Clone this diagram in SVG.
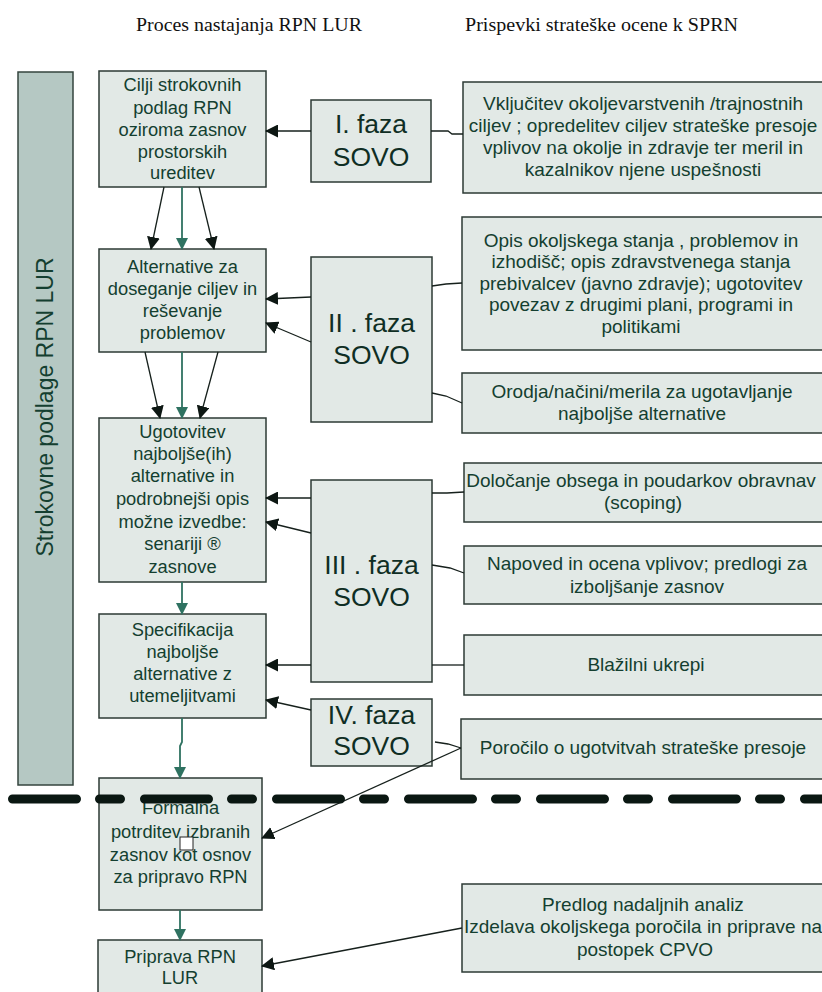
<svg xmlns="http://www.w3.org/2000/svg" width="822" height="992" viewBox="0 0 822 992">
<style>
.bx{fill:#e2e9e6;stroke:#2c3a35;stroke-width:1.5}
.bar{fill:#b5c8c3;stroke:#34443e;stroke-width:1.5}
.t{font-family:"Liberation Sans",Arial,sans-serif;font-size:18.3px;fill:#143f30;text-anchor:middle}
.r{font-family:"Liberation Sans",Arial,sans-serif;font-size:19px;fill:#143f30;text-anchor:middle}
.ph{font-family:"Liberation Sans",Arial,sans-serif;font-size:26.5px;fill:#0f2e24;text-anchor:middle}
.hd{font-family:"Liberation Serif","Times New Roman",serif;font-size:18px;fill:#111}
.k{fill:none;stroke:#16201c;stroke-width:1.3}
.g{fill:none;stroke:#2f7261;stroke-width:1.8}
</style>
<defs>
<marker id="ab" markerUnits="userSpaceOnUse" markerWidth="13" markerHeight="13" refX="12" refY="6.5" orient="auto"><path d="M0,0 L13,6.5 L0,13 z" fill="#0d1713"/></marker>
<marker id="ag" markerUnits="userSpaceOnUse" markerWidth="12" markerHeight="12" refX="11" refY="6" orient="auto"><path d="M0,0 L12,6 L0,12 z" fill="#2f7261"/></marker>
</defs>
<rect width="822" height="992" fill="#fff"/>
<g id="headers">
<text class="hd" x="136" y="31" textLength="226" lengthAdjust="spacingAndGlyphs">Proces nastajanja RPN LUR</text>
<text class="hd" x="465" y="31" textLength="273" lengthAdjust="spacingAndGlyphs">Prispevki strateške ocene k SPRN</text>
</g>
<g id="side-bar">
<rect class="bar" x="18" y="72" width="55" height="713"/>
<text class="t" style="font-size:23px" transform="translate(53,407) rotate(-90)">Strokovne podlage RPN LUR</text>
</g>
<g id="n1"><rect class="bx" x="99" y="71" width="167" height="116"/>
<text class="t" x="182.5" y="91">Cilji strokovnih</text><text class="t" x="182.5" y="114">podlag RPN</text><text class="t" x="182.5" y="136">oziroma zasnov</text><text class="t" x="182.5" y="158">prostorskih</text><text class="t" x="182.5" y="179">ureditev</text></g>
<g id="n2"><rect class="bx" x="99" y="249" width="167" height="103"/>
<text class="t" x="182.5" y="273">Alternative za</text><text class="t" x="182.5" y="295">doseganje ciljev in</text><text class="t" x="182.5" y="317">reševanje</text><text class="t" x="182.5" y="339">problemov</text></g>
<g id="n3"><rect class="bx" x="99" y="418" width="167" height="164"/>
<text class="t" x="182.5" y="438">Ugotovitev</text><text class="t" x="182.5" y="460">najboljše(ih)</text><text class="t" x="182.5" y="482">alternative in</text><text class="t" x="182.5" y="505">podrobnejši opis</text><text class="t" x="182.5" y="528">možne izvedbe:</text><text class="t" x="182.5" y="550">senariji ®</text><text class="t" x="182.5" y="573">zasnove</text></g>
<g id="n4"><rect class="bx" x="99" y="614" width="167" height="104"/>
<text class="t" x="182.5" y="636">Specifikacija</text><text class="t" x="182.5" y="658">najboljše</text><text class="t" x="182.5" y="680">alternative z</text><text class="t" x="182.5" y="702">utemeljitvami</text></g>
<g id="n5"><rect class="bx" x="99" y="778" width="163" height="132"/>
<text class="t" x="180.5" y="814">Formalna</text><text class="t" x="180.5" y="838">potrditev izbranih</text><text class="t" x="180.5" y="861">zasnov kot osnov</text><text class="t" x="180.5" y="883">za pripravo  RPN</text>
<rect x="180" y="837" width="13" height="13" fill="#fff" stroke="#222" stroke-width="1"/></g>
<g id="n6"><rect class="bx" x="98" y="940" width="164" height="70"/>
<text class="t" x="180" y="963">Priprava RPN</text><text class="t" x="180" y="984">LUR</text></g>
<g id="p1"><rect class="bx" x="311" y="100" width="120" height="82"/>
<text class="ph" x="371" y="133">I. faza</text><text class="ph" x="371" y="166">SOVO</text></g>
<g id="p2"><rect class="bx" x="311" y="257" width="121" height="165"/>
<text class="ph" x="371.5" y="332">II . faza</text><text class="ph" x="371.5" y="364">SOVO</text></g>
<g id="p3"><rect class="bx" x="311" y="480" width="121" height="202"/>
<text class="ph" x="371.5" y="574">III . faza</text><text class="ph" x="371.5" y="606">SOVO</text></g>
<g id="p4"><rect class="bx" x="311" y="699" width="121" height="67"/>
<text class="ph" x="371.5" y="724">IV. faza</text><text class="ph" x="371.5" y="755">SOVO</text></g>
<g id="b1"><rect class="bx" x="463" y="82" width="370" height="111"/>
<text class="r" x="643" y="110">Vključitev okoljevarstvenih /trajnostnih</text><text class="r" x="643" y="132">ciljev ; opredelitev ciljev strateške presoje</text><text class="r" x="643" y="154">vplivov na okolje in zdravje ter meril in</text><text class="r" x="643" y="176">kazalnikov njene uspešnosti</text></g>
<g id="b2"><rect class="bx" x="462" y="217" width="370" height="133"/>
<text class="r" x="641" y="247">Opis okoljskega stanja , problemov in</text><text class="r" x="641" y="268">izhodišč; opis zdravstvenega stanja</text><text class="r" x="641" y="290">prebivalcev (javno zdravje); ugotovitev</text><text class="r" x="641" y="311">povezav z drugimi plani, programi in</text><text class="r" x="641" y="333">politikami</text></g>
<g id="b3"><rect class="bx" x="462" y="373" width="370" height="60"/>
<text class="r" x="642" y="398">Orodja/načini/merila za ugotavljanje</text><text class="r" x="642" y="420">najboljše alternative</text></g>
<g id="b4"><rect class="bx" x="464" y="463" width="370" height="59"/>
<text class="r" x="641" y="487">Določanje obsega in poudarkov obravnav</text><text class="r" x="643" y="509">(scoping)</text></g>
<g id="b5"><rect class="bx" x="464" y="546" width="370" height="58"/>
<text class="r" x="647" y="570">Napoved in ocena vplivov; predlogi za</text><text class="r" x="647" y="593">izboljšanje zasnov</text></g>
<g id="b6"><rect class="bx" x="464" y="635" width="370" height="60"/>
<text class="r" x="646" y="671">Blažilni ukrepi</text></g>
<g id="b7"><rect class="bx" x="461" y="719" width="370" height="60"/>
<text class="r" x="643" y="754">Poročilo o ugotvitvah strateške presoje</text></g>
<g id="b8"><rect class="bx" x="462" y="884" width="370" height="88"/>
<text class="r" x="643" y="911">Predlog nadaljnih analiz</text><text class="r" x="643" y="933">Izdelava okoljskega poročila in priprave na</text><text class="r" x="645" y="956">postopek CPVO</text></g>
<g id="connectors">
<line class="k" x1="311" y1="131" x2="266" y2="131" marker-end="url(#ab)"/>
<polyline class="k" points="431,131 448,131 452,134 463,134"/>
<line class="k" x1="164" y1="187" x2="151" y2="249" marker-end="url(#ab)"/>
<line class="g" x1="182" y1="187" x2="182" y2="249" marker-end="url(#ag)"/>
<line class="k" x1="199" y1="187" x2="214" y2="249" marker-end="url(#ab)"/>
<line class="k" x1="311" y1="297" x2="266" y2="299" marker-end="url(#ab)"/>
<line class="k" x1="311" y1="342" x2="266" y2="323" marker-end="url(#ab)"/>
<polyline class="k" points="432,286 446,284 462,283"/>
<polyline class="k" points="432,393 446,396 462,403"/>
<line class="k" x1="145" y1="352" x2="160" y2="418" marker-end="url(#ab)"/>
<line class="g" x1="182" y1="352" x2="182" y2="418" marker-end="url(#ag)"/>
<line class="k" x1="218" y1="352" x2="200" y2="418" marker-end="url(#ab)"/>
<line class="k" x1="311" y1="498" x2="266" y2="498" marker-end="url(#ab)"/>
<line class="k" x1="311" y1="533" x2="266" y2="522" marker-end="url(#ab)"/>
<polyline class="k" points="432,493 447,493 464,492"/>
<polyline class="k" points="432,565 450,568 464,573"/>
<line class="k" x1="311" y1="665" x2="266" y2="665" marker-end="url(#ab)"/>
<line class="k" x1="432" y1="665" x2="464" y2="665"/>
<line class="g" x1="182" y1="582" x2="182" y2="614" marker-end="url(#ag)"/>
<line class="k" x1="311" y1="710" x2="266" y2="700" marker-end="url(#ab)"/>
<polyline class="k" points="435,742 448,744 461,748"/>
<line class="k" x1="461" y1="748" x2="262" y2="838" marker-end="url(#ab)"/>
<polyline class="g" points="182,718 182,742 180,746 180,778" marker-end="url(#ag)"/>
<line class="g" x1="180" y1="910" x2="180" y2="940" marker-end="url(#ag)"/>
<line class="k" x1="462" y1="928" x2="262" y2="966" marker-end="url(#ab)"/>
</g>
<g id="boundary">
<line x1="12.5" y1="799" x2="830" y2="799" stroke="#0a1712" stroke-width="9" stroke-linecap="round" stroke-dasharray="64 23 21 24"/>
</g>
</svg>
